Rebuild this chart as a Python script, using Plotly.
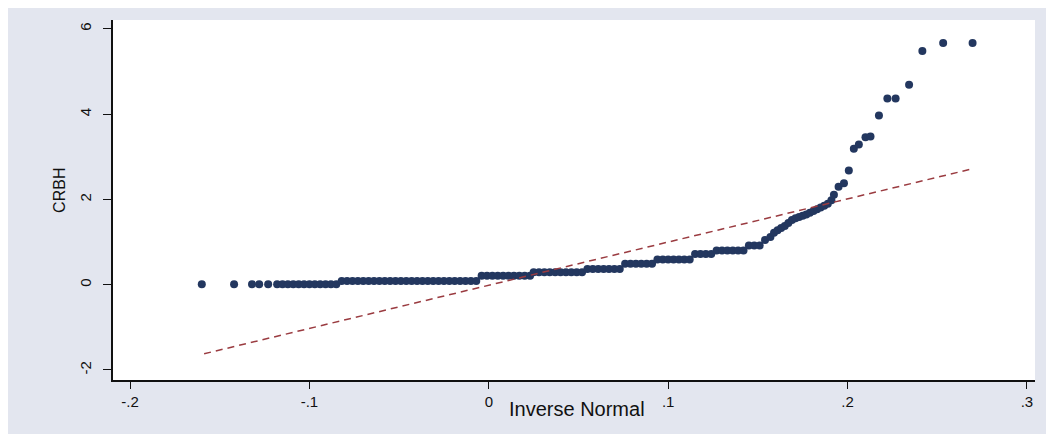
import plotly.graph_objects as go

# ---- data ----
inv_normal = [
    -0.160, -0.142, -0.132, -0.128, -0.123, -0.118, -0.115, -0.112, -0.109, -0.106,
    -0.103, -0.100, -0.097, -0.094, -0.091, -0.088, -0.085,
    -0.082, -0.079, -0.076, -0.073, -0.070, -0.067, -0.064, -0.061, -0.058, -0.055,
    -0.052, -0.049, -0.046, -0.043, -0.040, -0.037, -0.034, -0.031, -0.028, -0.025,
    -0.022, -0.019, -0.016, -0.013, -0.010, -0.007,
    -0.004, -0.001, 0.002, 0.005, 0.008, 0.011, 0.014, 0.017, 0.020, 0.023,
    0.025, 0.028, 0.031, 0.034, 0.037, 0.040, 0.043, 0.046, 0.049, 0.052,
    0.055, 0.058, 0.061, 0.064, 0.067, 0.070, 0.073,
    0.076, 0.079, 0.082, 0.085, 0.088, 0.091,
    0.094, 0.097, 0.100, 0.103, 0.106, 0.109, 0.112,
    0.115, 0.118, 0.121, 0.124,
    0.127, 0.130, 0.133, 0.136, 0.139, 0.142,
    0.145, 0.148, 0.151,
    0.154, 0.157, 0.159, 0.161, 0.163, 0.165, 0.167, 0.169, 0.171, 0.173,
    0.175, 0.177, 0.179, 0.181, 0.183, 0.185, 0.187, 0.189, 0.191,
    0.1924, 0.195, 0.198, 0.2007, 0.2035, 0.2063, 0.210, 0.2128, 0.2175, 0.2222,
    0.2268, 0.2343, 0.2417, 0.2533, 0.2697,
]
crbh = [
    0.01, 0.01, 0.01, 0.01, 0.01, 0.01, 0.01, 0.01, 0.01, 0.01,
    0.01, 0.01, 0.01, 0.01, 0.01, 0.01, 0.01,
    0.09, 0.09, 0.09, 0.09, 0.09, 0.09, 0.09, 0.09, 0.09, 0.09,
    0.09, 0.09, 0.09, 0.09, 0.09, 0.09, 0.09, 0.09, 0.09, 0.09,
    0.09, 0.09, 0.09, 0.09, 0.09, 0.09,
    0.21, 0.21, 0.21, 0.21, 0.21, 0.21, 0.21, 0.21, 0.21, 0.21,
    0.29, 0.29, 0.29, 0.29, 0.29, 0.29, 0.29, 0.29, 0.29, 0.29,
    0.37, 0.37, 0.37, 0.37, 0.37, 0.37, 0.37,
    0.49, 0.49, 0.49, 0.49, 0.49, 0.49,
    0.59, 0.59, 0.59, 0.59, 0.59, 0.59, 0.59,
    0.72, 0.72, 0.72, 0.72,
    0.80, 0.80, 0.80, 0.80, 0.80, 0.80,
    0.92, 0.92, 0.92,
    1.05, 1.12, 1.22, 1.28, 1.33, 1.38, 1.45, 1.52, 1.56, 1.59,
    1.62, 1.65, 1.69, 1.73, 1.77, 1.81, 1.85, 1.90, 1.98,
    2.11, 2.30, 2.38, 2.68, 3.19, 3.29, 3.46, 3.48, 3.97, 4.37,
    4.37, 4.69, 5.48, 5.67, 5.67,
]
ref_x = [-0.1587, 0.2697]
ref_y = [-1.62, 2.72]

x_tickvals = [-0.2, -0.1, 0, 0.1, 0.2, 0.3]
x_ticktext = ["-.2", "-.1", "0", ".1", ".2", ".3"]
y_tickvals = [-2, 0, 2, 4, 6]
y_ticktext = ["-2", "0", "2", "4", "6"]

fig = go.Figure()
fig.add_trace(go.Scatter(
    x=inv_normal, y=crbh, mode="markers",
    marker=dict(color="#23375f", size=8, symbol="circle", line=dict(width=0)),
    showlegend=False, hoverinfo="skip"))
fig.add_trace(go.Scatter(
    x=ref_x, y=ref_y, mode="lines",
    line=dict(color="#9a3b40", width=1.5, dash="7px,5px"),
    showlegend=False, hoverinfo="skip"))

font_family = "Liberation Sans, Arial, sans-serif"
fig.update_layout(
    width=1046, height=426,
    margin=dict(l=105, r=19, t=12, b=54),
    paper_bgcolor="#e3e6ef",
    plot_bgcolor="#ffffff",
    font=dict(family=font_family, size=14, color="#111111"),
    xaxis=dict(
        range=[-0.2095, 0.3045], tickvals=x_tickvals, ticktext=x_ticktext,
        showgrid=False, zeroline=False, showline=True, linecolor="#111111",
        linewidth=1.5, ticks="outside", ticklen=7, tickcolor="#111111",
        tickfont=dict(size=15)),
    yaxis=dict(
        range=[-2.235, 6.21], tickvals=y_tickvals, ticktext=y_ticktext,
        showgrid=False, zeroline=False, showline=True, linecolor="#111111",
        linewidth=1.5, ticks="outside", ticklen=8, tickcolor="#111111",
        tickangle=-90, tickfont=dict(size=15), ticklabelstandoff=6),
    annotations=[
        dict(text="Inverse Normal", xref="paper", yref="paper", x=0.503, y=0,
             xanchor="center", yanchor="middle", yshift=-29, showarrow=False,
             font=dict(size=20, color="#111111")),
        dict(text="CRBH", xref="paper", yref="paper", x=-0.0575, y=0.528,
             xanchor="center", yanchor="middle", textangle=-90, showarrow=False,
             font=dict(size=16, color="#111111")),
    ],
)

fig.write_html("out.html")
